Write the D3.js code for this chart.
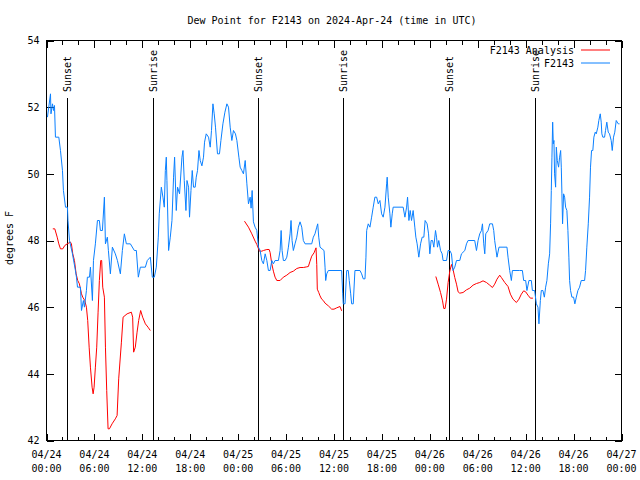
<!DOCTYPE html>
<html><head><meta charset="utf-8">
<script src="https://cdn.jsdelivr.net/npm/d3@7"></script>
<style>
body{margin:0;background:#fff}
text{font-family:"DejaVu Sans Mono","Liberation Mono",monospace;font-size:10px;fill:#000}
</style>
</head><body>
<svg id="chart" width="640" height="480"></svg>
<script>
// ---- data (hours since 2024-04-24 00:00 UTC) ----
const titleText = "Dew Point for F2143 on 2024-Apr-24 (time in UTC)";
const yLabel = "degrees F";
const seriesNames = ["F2143 Analysis", "F2143"];
const yTicks = [42, 44, 46, 48, 50, 52, 54];

const blueHours = [0.12,0.5,0.56,0.75,0.88,1.0,1.12,1.54,1.75,2.0,2.12,2.38,2.62,2.69,2.88,3.25,3.62,3.75,3.88,4.25,4.38,4.62,4.75,5.0,5.12,5.38,5.5,5.75,5.88,6.12,6.38,6.62,6.75,7.0,7.25,7.38,7.62,7.75,8.0,8.25,8.62,8.88,9.25,9.5,9.75,10.0,10.5,11.0,11.25,11.5,11.75,12.38,12.62,13.0,13.25,13.5,13.75,14.0,14.12,14.38,14.58,14.75,14.88,15.0,15.08,15.29,15.5,15.71,15.91,16.04,16.25,16.41,16.66,16.96,17.09,17.25,17.46,17.59,17.79,17.91,18.09,18.25,18.41,18.62,18.75,18.91,19.09,19.25,19.46,19.66,19.79,20.0,20.29,20.5,20.66,20.84,21.0,21.16,21.41,21.66,21.84,22.09,22.34,22.59,22.79,23.0,23.21,23.41,23.66,23.84,24.09,24.25,24.46,24.66,24.88,25.09,25.29,25.5,25.62,25.75,25.91,26.12,26.34,26.54,26.75,26.96,27.16,27.38,27.59,27.79,28.0,28.21,28.41,28.62,29.04,29.25,29.38,29.5,29.66,29.88,30.09,30.29,30.5,30.62,30.75,30.91,31.12,31.34,31.54,31.75,31.96,32.16,32.38,33.21,33.41,33.62,33.84,33.96,34.09,34.25,34.75,34.88,34.96,35.09,35.29,36.75,36.96,37.09,37.16,37.38,37.59,37.79,37.91,38.09,38.21,38.41,38.62,39.25,39.46,39.66,39.88,40.0,40.09,40.29,40.5,40.71,40.91,41.12,41.34,41.54,41.75,41.96,42.16,42.38,42.59,42.66,42.79,43.0,43.12,43.29,43.41,44.66,44.88,45.09,45.21,45.38,45.54,45.71,45.91,46.12,46.25,46.41,46.62,46.84,47.04,47.25,47.41,47.66,47.84,48.0,48.16,48.34,48.5,48.71,48.84,48.96,49.12,49.34,49.54,49.66,50.09,50.29,50.5,50.71,50.91,51.12,51.34,51.75,51.96,52.38,52.59,52.79,53.62,53.84,54.04,54.25,54.46,54.59,54.75,54.88,55.0,55.29,55.5,55.84,56.0,56.12,56.41,56.66,57.66,57.79,58.0,58.21,58.34,59.25,59.59,59.75,60.0,60.16,60.41,60.71,60.84,61.12,61.34,61.54,61.66,61.84,61.96,62.16,62.34,62.5,62.66,62.84,63.0,63.12,63.21,63.29,63.38,63.46,63.54,63.62,63.75,63.84,63.96,64.12,64.25,64.38,64.46,64.54,64.62,64.75,64.88,65.0,65.16,65.29,65.41,65.5,65.62,65.79,66.0,66.16,66.34,66.54,66.75,66.96,67.38,67.5,67.66,67.84,68.0,68.12,68.25,68.41,68.54,68.71,68.84,69.04,69.16,69.34,69.46,69.54,69.66,69.88,70.0,70.16,70.34,70.5,70.71,70.84,71.0,71.16,71.34,71.59,71.75];
const blueValues = [51.7,52.4,51.8,52.1,51.9,52.05,51.1,51.1,50.7,50.1,49.5,49.0,49.0,48.6,48.0,47.6,47.1,46.9,46.6,46.6,45.9,46.2,46.0,46.5,46.9,46.9,47.2,46.2,47.4,47.9,48.6,48.6,48.3,48.3,49.3,47.9,48.1,47.7,47.0,47.8,47.6,47.4,47.0,47.7,48.2,47.9,47.9,47.7,47.7,46.9,47.2,47.2,47.4,47.5,46.9,46.9,47.2,48.1,48.8,49.6,49.3,49.0,50.1,50.5,49.8,47.7,48.1,48.6,49.9,50.5,48.9,49.6,49.4,50.5,50.7,49.8,48.9,49.8,49.6,48.7,49.5,50.1,49.6,49.6,49.9,50.1,50.7,50.4,50.24,50.5,50.95,51.2,51.1,50.8,51.3,52.1,51.8,51.4,50.6,50.6,51.0,51.5,51.85,52.1,52.0,51.4,51.0,51.3,51.2,51.0,50.5,50.2,50.1,50.0,50.4,49.7,49.1,49.3,48.97,49.5,48.56,48.4,48.3,47.8,47.7,47.4,47.3,47.6,47.4,47.1,47.1,47.4,47.3,47.4,47.4,47.7,48.3,47.7,47.4,47.4,47.5,47.8,48.2,48.6,48.0,47.7,47.9,48.1,48.4,48.56,48.4,48.0,47.9,47.9,48.1,48.2,48.4,48.5,48.1,47.8,47.7,47.2,46.8,47.0,47.1,47.1,47.1,46.4,46.1,46.1,47.1,47.1,46.8,46.4,46.1,46.1,47.1,47.1,47.0,46.85,46.85,47.5,48.3,48.5,48.4,48.7,49.0,49.3,49.3,49.1,49.2,48.8,48.7,49.0,49.7,49.9,49.3,48.8,48.4,48.8,49.0,49.0,48.7,49.0,49.3,48.6,48.9,48.6,48.9,48.4,48.1,47.9,47.5,47.9,48.1,48.1,48.6,48.5,48.2,47.6,48.0,48.0,47.8,48.3,48.1,47.8,48.0,47.7,47.6,47.4,47.4,47.7,47.7,47.6,47.1,47.2,47.4,47.4,47.6,47.7,47.9,48.0,48.0,47.7,48.0,48.2,48.3,48.5,47.9,47.6,48.2,48.3,48.5,48.5,48.3,48.0,47.5,47.8,47.8,47.5,47.1,46.8,47.1,47.1,47.1,46.8,46.8,46.5,46.8,46.8,46.5,46.5,46.1,46.0,45.5,46.2,46.5,46.5,46.3,46.6,46.8,47.3,47.6,48.5,49.5,50.5,51.55,50.9,51.0,50.0,49.6,50.8,50.4,50.2,50.5,50.7,50.2,49.4,48.5,49.4,49.3,49.0,48.9,48.3,47.5,46.8,46.5,46.3,46.3,46.1,46.3,46.5,46.6,46.8,46.8,47.1,47.8,48.5,49.3,50.2,50.7,50.7,51.1,51.25,51.2,51.4,51.6,51.8,51.55,51.2,51.1,51.1,51.3,51.55,51.25,51.2,51.0,50.7,51.1,51.25,51.6,51.5,51.5];

// analysis series: three runs separated by null gaps
const redHours = [0.79,1.04,1.34,1.54,1.75,2.04,2.29,2.59,3.0,3.12,3.29,3.5,3.71,3.91,4.12,4.38,4.54,4.79,5.0,5.16,5.34,5.5,5.71,5.84,5.96,6.12,6.29,6.46,6.62,6.79,6.91,7.04,7.25,7.38,7.54,7.71,7.88,8.21,8.62,8.84,9.04,9.38,9.59,10.09,10.62,10.79,10.91,11.12,11.34,11.54,11.79,12.04,12.38,12.71,13.0,
  null,
  24.79,25.29,25.71,26.12,26.34,26.66,26.96,27.16,27.59,27.88,28.0,28.21,28.41,28.62,28.84,29.25,29.66,30.09,30.5,30.91,31.34,31.75,32.16,32.59,32.79,33.0,33.21,33.5,33.75,33.84,33.91,34.09,34.25,34.46,34.66,34.88,35.29,35.71,36.0,36.34,36.75,36.96,
  null,
  48.75,49.04,49.34,49.59,49.75,49.91,50.09,50.29,50.5,50.71,50.91,51.12,51.34,51.54,51.75,52.16,52.59,53.0,53.41,53.84,54.25,54.66,55.09,55.5,55.84,56.12,56.41,56.75,56.96,57.38,57.79,58.09,58.41,58.84,59.16,59.46,59.75,60.0,60.29,60.59,60.91];
const redValues = [48.35,48.35,48.1,47.9,47.75,47.75,47.85,47.9,47.95,47.9,47.6,47.4,47.0,46.8,46.7,46.4,46.3,46.2,46.0,45.6,44.8,44.2,43.6,43.4,43.6,44.2,44.8,45.85,46.8,47.4,47.4,46.6,46.3,44.8,43.5,42.35,42.35,42.5,42.65,42.75,43.85,44.95,45.7,45.8,45.85,45.7,44.65,44.8,45.25,45.6,45.9,45.7,45.5,45.4,45.3,
  null,
  48.58,48.4,48.2,47.98,47.88,47.68,47.68,47.7,47.73,47.73,47.64,47.3,47.08,46.9,46.8,46.8,46.9,46.96,47.04,47.08,47.16,47.19,47.19,47.21,47.22,47.38,47.53,47.63,47.78,47.28,46.54,46.44,46.34,46.24,46.2,46.12,46.04,45.94,45.94,45.98,46.02,45.89,
  null,
  46.92,46.69,46.44,46.19,45.96,45.96,46.24,46.74,47.08,47.28,47.13,46.89,46.69,46.46,46.42,46.44,46.52,46.57,46.66,46.71,46.74,46.79,46.74,46.66,46.59,46.69,46.84,46.96,46.89,46.74,46.62,46.39,46.24,46.14,46.24,46.39,46.49,46.46,46.36,46.27,46.27];

const sunHours  = [2.54, 13.29, 26.44, 37.16, 50.41, 61.16];
const sunLabels = ["Sunset", "Sunrise", "Sunset", "Sunrise", "Sunset", "Sunrise"];

const colors = ["#ff0000", "#0a80ff"];

// ---- layout ----
const L = 46.5, R = 621.5, T = 40.5, B = 440.5;
const t0 = Date.UTC(2024, 3, 24);
const toDate = h => new Date(t0 + h * 3600e3);

const svg = d3.select("#chart");
const x = d3.scaleUtc().domain([toDate(0), toDate(72)]).range([L, R]);
const y = d3.scaleLinear().domain([42, 54]).range([B, T]);

svg.append("rect").attr("width", 640).attr("height", 480).attr("fill", "#fff");

// frame
svg.append("rect").attr("x", L).attr("y", T).attr("width", R - L).attr("height", B - T)
  .attr("fill", "none").attr("stroke", "#000").attr("stroke-width", 1);

// x ticks (major 6h, minor 2h) on bottom and top, pointing inward
const minorTimes = d3.utcHour.every(2).range(toDate(0), toDate(72.01));
const majorTimes = d3.utcHour.every(6).range(toDate(0), toDate(72.01));
const axB = d3.axisBottom(x).tickValues(minorTimes).tickSize(-4).tickFormat("");
const axT = d3.axisTop(x).tickValues(minorTimes).tickSize(-4).tickFormat("");
const axBM = d3.axisBottom(x).tickValues(majorTimes).tickSize(-7).tickFormat("");
const axTM = d3.axisTop(x).tickValues(majorTimes).tickSize(-7).tickFormat("");
[[axB, B], [axBM, B], [axT, T], [axTM, T]].forEach(([a, yy]) => {
  const g = svg.append("g").attr("transform", `translate(0,${yy})`).call(a);
  g.select(".domain").remove();
  g.selectAll("line").attr("stroke", "#000").attr("shape-rendering", "crispEdges");
});
// x labels
const fmtD = d3.utcFormat("%m/%d"), fmtT = d3.utcFormat("%H:%M");
const xl = svg.append("g");
majorTimes.forEach(d => {
  const t = xl.append("text").attr("text-anchor", "middle").attr("x", x(d));
  t.append("tspan").attr("x", x(d)).attr("y", 458).text(fmtD(d));
  t.append("tspan").attr("x", x(d)).attr("y", 472).text(fmtT(d));
});

// y ticks left and right
const axL = d3.axisLeft(y).tickValues(yTicks).tickSize(-7).tickFormat(d3.format("d"));
const axR = d3.axisRight(y).tickValues(yTicks).tickSize(-7).tickFormat("");
const gL = svg.append("g").attr("transform", `translate(${L},0)`).call(axL);
const gR = svg.append("g").attr("transform", `translate(${R},0)`).call(axR);
[gL, gR].forEach(g => {
  g.select(".domain").remove();
  g.selectAll("line").attr("stroke", "#000").attr("shape-rendering", "crispEdges");
});
gL.attr("font-family", null).attr("font-size", null);
gL.selectAll("text").attr("x", -7).attr("fill", "#000");

// sunrise / sunset markers
sunHours.forEach((h, i) => {
  const xx = Math.round(x(toDate(h))) + 0.5;
  svg.append("line").attr("x1", xx).attr("x2", xx).attr("y1", 98).attr("y2", B)
    .attr("stroke", "#000").attr("stroke-width", 1);
  svg.append("text").attr("transform", `translate(${xx},92) rotate(-90)`)
    .attr("text-anchor", "start").attr("dy", "0.35em").text(sunLabels[i]);
});

// series
const line = d3.line().defined(d => d.v != null).x(d => x(toDate(d.h))).y(d => y(d.v));
const redData = redHours.map((h, i) => ({h, v: redValues[i]}));
const blueData = blueHours.map((h, i) => ({h, v: blueValues[i]}));
svg.append("path").datum(redData).attr("d", line).attr("fill", "none")
  .attr("stroke", colors[0]).attr("stroke-width", 1);
svg.append("path").datum(blueData).attr("d", line).attr("fill", "none")
  .attr("stroke", colors[1]).attr("stroke-width", 1);

// title + y label
svg.append("text").attr("x", 332).attr("y", 24).attr("text-anchor", "middle").text(titleText);
svg.append("text").attr("transform", "translate(13,238) rotate(-90)").attr("text-anchor", "middle").text(yLabel);

// legend
seriesNames.forEach((n, i) => {
  const yy = 50 + i * 13;
  svg.append("text").attr("x", 574).attr("y", yy).attr("dy", "0.35em").attr("text-anchor", "end").text(n);
  svg.append("line").attr("x1", 581).attr("x2", 610).attr("y1", yy).attr("y2", yy)
    .attr("stroke", colors[i]).attr("stroke-width", 1);
});
</script>
</body></html>
